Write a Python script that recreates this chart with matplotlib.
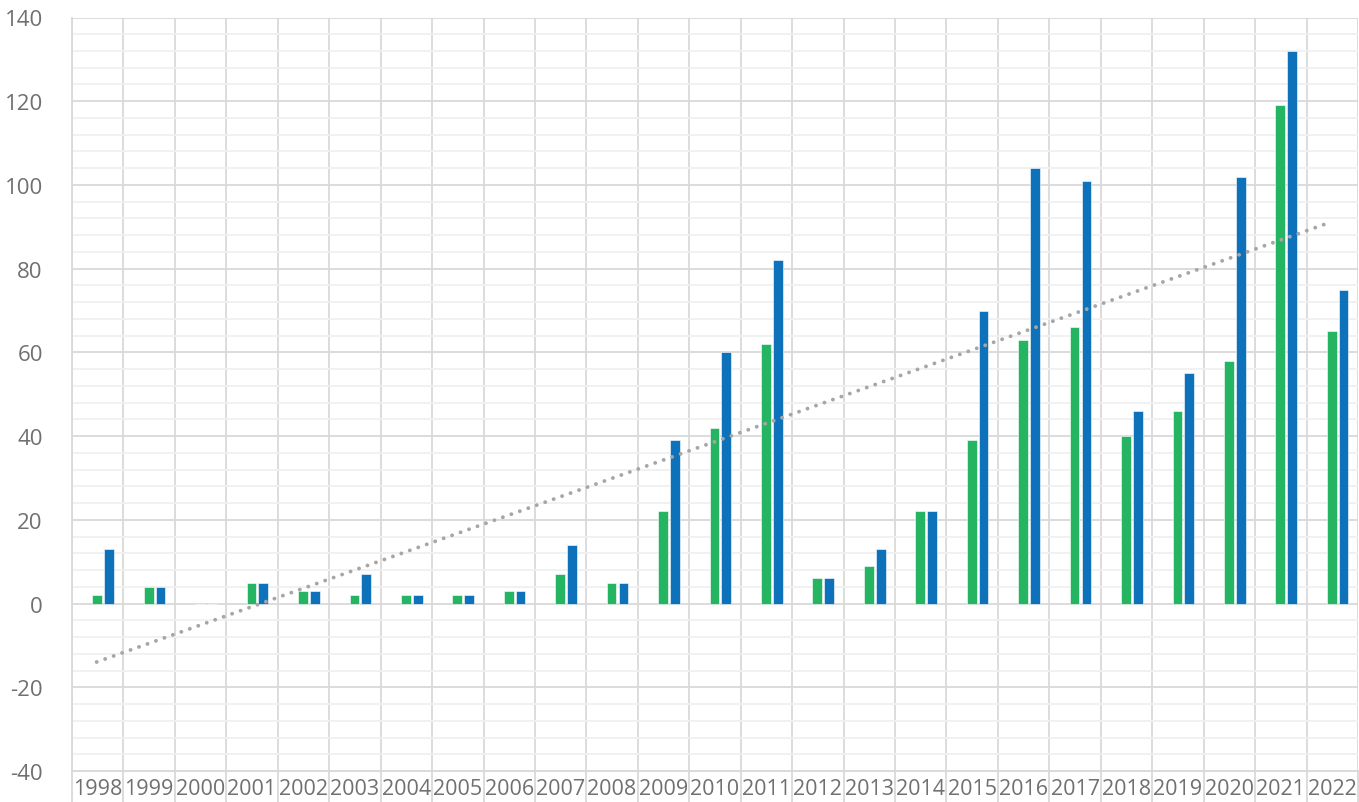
import matplotlib
matplotlib.use("Agg")
import matplotlib.pyplot as plt
from matplotlib.ticker import MultipleLocator, FixedLocator
import numpy as np

years = [str(y) for y in range(1998, 2023)]
green_vals = [2, 4, 0, 5, 3, 2, 2, 2, 3, 7, 5, 22, 42, 62, 6, 9, 22, 39, 63, 66, 40, 46, 58, 119, 65]
blue_vals = [13, 4, 0, 5, 3, 7, 2, 2, 3, 14, 5, 39, 60, 82, 6, 13, 22, 70, 104, 101, 46, 55, 102, 132, 75]

GREEN = "#25B462"
BLUE = "#0E72BA"
GRID = "#D9D9D9"
MINOR = "#F0F0F0"
TEXT = "#707070"

plt.rcParams['font.family'] = ['Open Sans', 'DejaVu Sans']
plt.rcParams['axes.unicode_minus'] = False

fig = plt.figure(figsize=(13.59, 8.03), dpi=100)
ax = fig.add_axes([72/1359, 1 - 772/803, 1 - 72/1359 - 1/1359, (772 - 18.5)/803])

x = np.arange(len(years))
w = 0.19
ax.bar(x - 0.01, green_vals, width=w, color=GREEN, edgecolor="white", linewidth=0.4, zorder=3)
ax.bar(x + 0.22, blue_vals, width=w, color=BLUE, edgecolor="white", linewidth=0.4, zorder=3)

# linear trend of the blue series
coef = np.polyfit(x, blue_vals, 1)
tx = np.array([x[0], x[-1]])
ax.plot(tx - 0.02, np.polyval(coef, tx), color="#A6A6A6", linewidth=2.8,
        linestyle=(0, (0.01, 2.3)), dash_capstyle="round", zorder=4)

ax.set_xlim(-0.5, len(years) - 0.5)
ax.set_ylim(-40, 140)

ax.yaxis.set_major_locator(MultipleLocator(20))
ax.yaxis.set_minor_locator(MultipleLocator(4))
ax.grid(axis="y", which="major", color=GRID, linewidth=1.3, zorder=1)
ax.grid(axis="y", which="minor", color=MINOR, linewidth=1.3, zorder=0)

ax.xaxis.set_major_locator(FixedLocator(x))
ax.set_xticklabels(years)
ax.xaxis.set_minor_locator(FixedLocator(np.arange(-0.5, len(years) + 0.5, 1)))
ax.grid(axis="x", which="minor", color=GRID, linewidth=1.3, zorder=1)

ax.tick_params(axis="x", which="major", length=0, pad=5, labelsize=15.5, labelcolor=TEXT)
ax.tick_params(axis="x", which="minor", length=26, width=1.3, color=GRID, direction="out")
ax.tick_params(axis="y", which="both", length=0, pad=21, labelsize=16, labelcolor=TEXT)

for s in ["top", "right"]:
    ax.spines[s].set_visible(False)
ax.spines["left"].set_color(GRID)
ax.spines["left"].set_linewidth(1.3)
ax.spines["bottom"].set_color(GRID)
ax.spines["bottom"].set_linewidth(1.3)

fig.savefig("out.png", dpi=100, facecolor="white")
